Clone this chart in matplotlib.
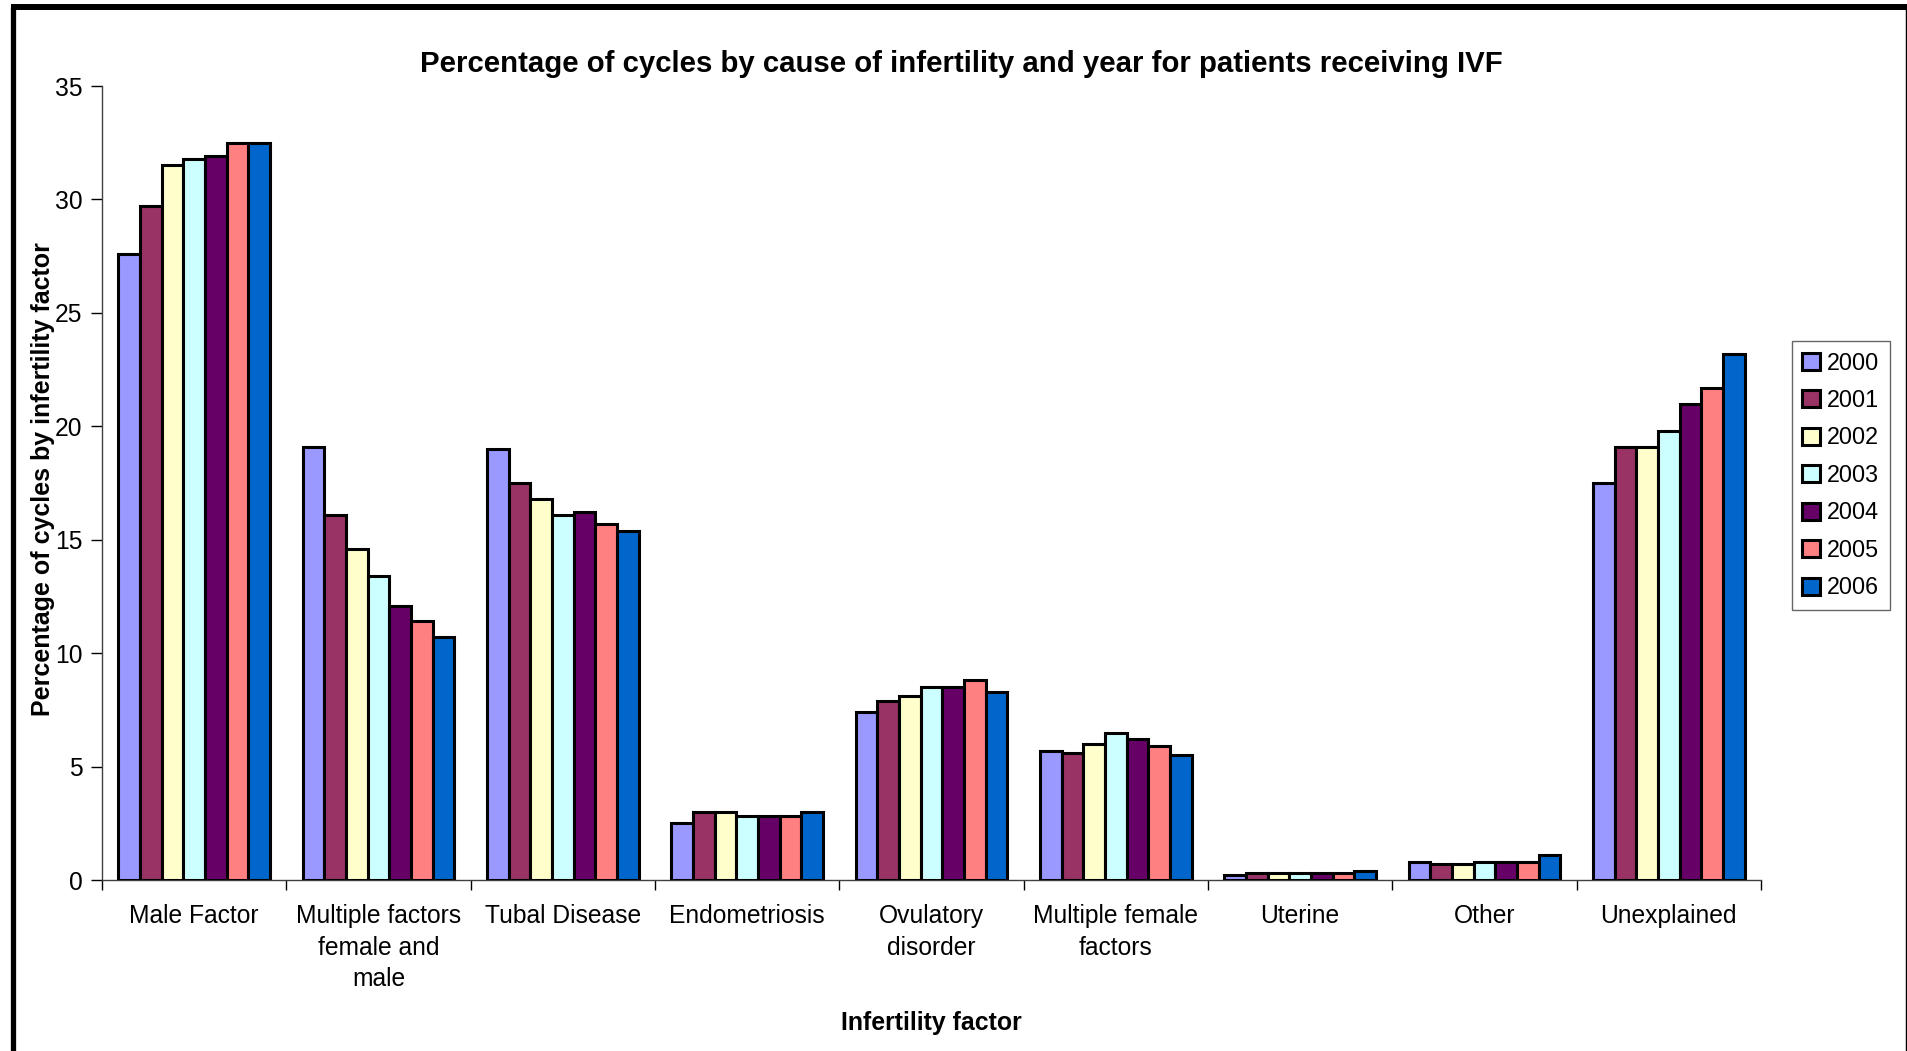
import matplotlib
matplotlib.use("Agg")
import matplotlib.pyplot as plt
import numpy as np
from matplotlib.lines import Line2D

plt.rcParams['font.family'] = ['Liberation Sans', 'DejaVu Sans']

categories = ["Male Factor", "Multiple factors\nfemale and\nmale", "Tubal Disease",
              "Endometriosis", "Ovulatory\ndisorder", "Multiple female\nfactors",
              "Uterine", "Other", "Unexplained"]
years = ["2000", "2001", "2002", "2003", "2004", "2005", "2006"]

v2000 = [27.6, 19.1, 19.0, 2.5, 7.4, 5.7, 0.2, 0.8, 17.5]
v2001 = [29.7, 16.1, 17.5, 3.0, 7.9, 5.6, 0.3, 0.7, 19.1]
v2002 = [31.5, 14.6, 16.8, 3.0, 8.1, 6.0, 0.3, 0.7, 19.1]
v2003 = [31.8, 13.4, 16.1, 2.8, 8.5, 6.5, 0.3, 0.8, 19.8]
v2004 = [31.9, 12.1, 16.2, 2.8, 8.5, 6.2, 0.3, 0.8, 21.0]
v2005 = [32.5, 11.4, 15.7, 2.8, 8.8, 5.9, 0.3, 0.8, 21.7]
v2006 = [32.5, 10.7, 15.4, 3.0, 8.3, 5.5, 0.4, 1.1, 23.2]
series = [v2000, v2001, v2002, v2003, v2004, v2005, v2006]

colors = ["#9999FF", "#993366", "#FFFFCC", "#CCFFFF", "#660066", "#FF8080", "#0066CC"]

W, H = 1908, 1051
fig = plt.figure(figsize=(W / 100, H / 100), dpi=100)
ax = fig.add_axes([102 / W, 1 - 880 / H, (1761 - 102) / W, (880 - 86) / H])

n = len(years)
bw = 1.0 / (n + 1.5)
x = np.arange(len(categories))
for i, (yr, vals, c) in enumerate(zip(years, series, colors)):
    offs = (i - (n - 1) / 2) * bw
    ax.bar(x + offs, vals, width=bw, color=c, edgecolor="black", linewidth=2.2,
           label=yr, zorder=3)

ax.set_xlim(-0.5, len(categories) - 0.5)
ax.set_ylim(0, 35)
ax.set_yticks(np.arange(0, 36, 5))
ax.tick_params(axis='y', labelsize=17.7, length=8, width=1, direction='out', pad=6)
ax.set_xticks(x)
ax.set_xticklabels(categories, fontsize=17.7, linespacing=1.39)
ax.tick_params(axis='x', length=0, pad=17.5)
ax.set_xticks(np.arange(-0.5, len(categories), 1.0), minor=True)
ax.tick_params(axis='x', which='minor', length=7, width=1, direction='out')
for s in ['top', 'right']:
    ax.spines[s].set_visible(False)
for s in ['left', 'bottom']:
    ax.spines[s].set_color('#404040')
    ax.spines[s].set_linewidth(1)

fig.text(961 / W, 1 - 64 / H, "Percentage of cycles by cause of infertility and year for patients receiving IVF",
         ha='center', va='center', fontsize=21.2, fontweight='bold')
fig.text(931 / W, 1 - 1023 / H, "Infertility factor", ha='center', va='center',
         fontsize=17.9, fontweight='bold')
fig.text(43 / W, 1 - 479 / H, "Percentage of cycles by infertility factor", ha='center',
         va='center', rotation=90, fontsize=18, fontweight='bold')

leg = ax.legend(loc='upper left', bbox_to_anchor=(1792 / W, 1 - 341 / H),
                bbox_transform=fig.transFigure, fontsize=16.8, frameon=True,
                fancybox=False, handlelength=0.75, handleheight=0.75,
                handletextpad=0.3, labelspacing=0.62, borderpad=0.45,
                borderaxespad=0)
leg.get_frame().set_edgecolor('#404040')
leg.get_frame().set_linewidth(1)

# outer frame (left, top, right)
fig.add_artist(Line2D([13.5 / W, 13.5 / W], [0, 1 - 7 / H], color='black', lw=3.8,
                      transform=fig.transFigure, solid_capstyle='butt'))
fig.add_artist(Line2D([11 / W, 1], [1 - 7 / H, 1 - 7 / H], color='black', lw=4.3,
                      transform=fig.transFigure, solid_capstyle='butt'))
fig.add_artist(Line2D([1907 / W, 1907 / W], [0, 1 - 7 / H], color='black', lw=2.5,
                      transform=fig.transFigure, solid_capstyle='butt'))

fig.savefig("out.png", dpi=100, facecolor='white')
